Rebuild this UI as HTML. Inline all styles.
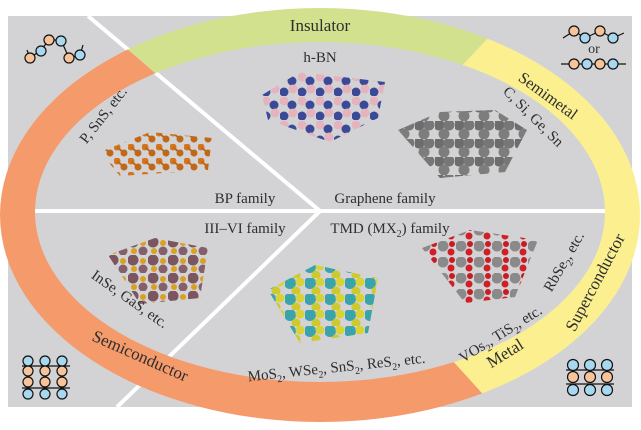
<!DOCTYPE html>
<html><head><meta charset="utf-8"><style>
html,body{margin:0;padding:0;background:#fff;width:641px;height:430px;overflow:hidden}
svg{display:block}
text{font-family:"Liberation Serif",serif;fill:#2e2e2e}
</style></head><body>
<svg width="641" height="430" viewBox="0 0 641 430" xmlns="http://www.w3.org/2000/svg">
<defs>
<clipPath id="ring"><path clip-rule="evenodd" d="M0,215a320,207 0 1,0 640,0a320,207 0 1,0 -640,0Z M35,212a285,170 0 1,0 570,0a285,170 0 1,0 -570,0Z"/></clipPath>
<pattern id="hbn" width="18" height="24" patternUnits="userSpaceOnUse" x="262" y="72">
<circle cx="4" cy="5" r="4.5" fill="#e5b3bd"/><circle cx="12" cy="9" r="4.5" fill="#3b4a98"/>
<circle cx="4" cy="20" r="4.5" fill="#3b4a98"/><circle cx="13" cy="17" r="4.5" fill="#e5b3bd"/></pattern>
<pattern id="gr" width="20" height="18" patternUnits="userSpaceOnUse" x="395" y="85">
<circle cx="4" cy="4" r="5.5" fill="#6d6d6d"/><circle cx="14" cy="4" r="5.5" fill="#777"/><circle cx="9" cy="13" r="5.5" fill="#7d7d7d"/></pattern>
<pattern id="bp" width="14" height="14" patternUnits="userSpaceOnUse" x="100" y="130">
<circle cx="3" cy="3" r="3.5" fill="#d5761f"/><circle cx="10" cy="9" r="3.5" fill="#c0681a"/><path d="M3,3L10,9" stroke="#c0681a" stroke-width="2"/></pattern>
<pattern id="iii" width="20" height="18" patternUnits="userSpaceOnUse" x="108" y="237">
<circle cx="5" cy="5" r="5.5" fill="#7b5560"/><circle cx="15" cy="6" r="3" fill="#d9a021"/><circle cx="6" cy="14" r="3" fill="#d9a021"/><circle cx="15" cy="14" r="4.5" fill="#85606a"/></pattern>
<pattern id="mos" width="20" height="16" patternUnits="userSpaceOnUse" x="265" y="262">
<circle cx="5" cy="5" r="6" fill="#3aa3ab"/><circle cx="15" cy="4" r="4.5" fill="#d9d236"/><circle cx="11" cy="13" r="4.5" fill="#cfc82e"/></pattern>
<pattern id="vos" width="18" height="16" patternUnits="userSpaceOnUse" x="420" y="225">
<circle cx="5" cy="5" r="5.5" fill="#8a8a8a"/><circle cx="13" cy="11" r="3.5" fill="#d01f26"/><circle cx="14" cy="3" r="3" fill="#c81c22"/></pattern>
</defs>
<rect x="8" y="16" width="624" height="391" fill="#d3d3d5"/>
<g stroke="#fff" stroke-width="4">
<line x1="8" y1="211" x2="632" y2="211"/>
<line x1="88" y1="16" x2="320" y2="211"/>
<line x1="320" y1="211" x2="117" y2="407"/>
</g>
<g clip-path="url(#ring)">
<polygon points="320,215 -220,-250 776,-265" fill="#d2e18d"/>
<polygon points="320,215 776,-265 1000,-265 1000,800 770,710" fill="#fbef90"/>
<polygon points="320,215 770,710 -400,800 -400,-250 -220,-250" fill="#f59a6b"/>
</g>
<polygon points="262,95 300,72 385,82 378,118 330,142 268,120" fill="url(#hbn)"/>
<polygon points="398,130 440,112 495,110 527,130 505,172 440,178" fill="url(#gr)"/>
<polygon points="100,152 150,132 212,138 208,170 120,176" fill="url(#bp)"/>
<polygon points="108,255 155,238 208,248 200,298 140,304" fill="url(#iii)"/>
<polygon points="268,290 315,265 378,278 368,333 300,343" fill="url(#mos)"/>
<polygon points="422,248 470,230 538,240 515,297 465,303" fill="url(#vos)"/>
<g stroke="#111" stroke-width="1.2">
<polyline fill="none" points="27,50 30,58 41,50 49,40 61,40 69,58 80,55 83,45"/>
<circle cx="30" cy="58" r="5" fill="#f7c39a"/><circle cx="41" cy="51" r="5" fill="#a8d8ef"/>
<circle cx="49" cy="40" r="5" fill="#f7c39a"/><circle cx="61" cy="41" r="5" fill="#a8d8ef"/>
<circle cx="69" cy="58" r="5" fill="#f7c39a"/><circle cx="80" cy="55" r="5" fill="#a8d8ef"/>
<polyline fill="none" points="563,38 574,31 585,38 600,31 613,38 624,33"/>
<circle cx="574" cy="31" r="5" fill="#f7c39a"/><circle cx="585" cy="38" r="5" fill="#a8d8ef"/>
<circle cx="600" cy="31" r="5" fill="#f7c39a"/><circle cx="613" cy="38" r="5" fill="#a8d8ef"/>
<line x1="561" y1="64" x2="626" y2="64"/>
<circle cx="574" cy="64" r="5" fill="#f7c39a"/><circle cx="587" cy="64" r="5" fill="#a8d8ef"/>
<circle cx="600" cy="64" r="5" fill="#f7c39a"/><circle cx="613" cy="64" r="5" fill="#a8d8ef"/>
<g fill="none"><path d="M22,366h48M22,388h48M28,361v33M45,361v33M62,361v33"/></g>
<circle cx="28" cy="361" r="5" fill="#a8d8ef"/><circle cx="45" cy="361" r="5" fill="#a8d8ef"/><circle cx="62" cy="361" r="5" fill="#a8d8ef"/>
<circle cx="28" cy="371" r="5" fill="#f7c39a"/><circle cx="45" cy="371" r="5" fill="#f7c39a"/><circle cx="62" cy="371" r="5" fill="#f7c39a"/>
<circle cx="28" cy="382" r="5" fill="#f7c39a"/><circle cx="45" cy="382" r="5" fill="#f7c39a"/><circle cx="62" cy="382" r="5" fill="#f7c39a"/>
<circle cx="28" cy="394" r="5" fill="#a8d8ef"/><circle cx="45" cy="394" r="5" fill="#a8d8ef"/><circle cx="62" cy="394" r="5" fill="#a8d8ef"/>
<g fill="none"><path d="M566,370h48M566,384h48"/></g>
<circle cx="573" cy="365" r="5.5" fill="#a8d8ef"/><circle cx="590" cy="365" r="5.5" fill="#a8d8ef"/><circle cx="607" cy="365" r="5.5" fill="#a8d8ef"/>
<circle cx="573" cy="377" r="5.5" fill="#f7c39a"/><circle cx="590" cy="377" r="5.5" fill="#f7c39a"/><circle cx="607" cy="377" r="5.5" fill="#f7c39a"/>
<circle cx="573" cy="390" r="5.5" fill="#a8d8ef"/><circle cx="590" cy="390" r="5.5" fill="#a8d8ef"/><circle cx="607" cy="390" r="5.5" fill="#a8d8ef"/>
</g>
<text x="594" y="53" font-size="14" text-anchor="middle">or</text>
<text x="320" y="31" font-size="17" text-anchor="middle">Insulator</text>
<text x="320" y="62" font-size="15" text-anchor="middle">h-BN</text>
<text x="245" y="203" font-size="15" text-anchor="middle">BP family</text>
<text x="385" y="203" font-size="15" text-anchor="middle">Graphene family</text>
<text x="245" y="233" font-size="15" text-anchor="middle">III–VI family</text>
<text x="390" y="233" font-size="15" text-anchor="middle">TMD (MX<tspan font-size="10" dy="4">2</tspan><tspan dy="-4">) family</tspan></text>
<text font-size="16" text-anchor="middle" transform="translate(545,100) rotate(36)">Semimetal</text>
<text font-size="15" text-anchor="middle" transform="translate(530,120) rotate(45)">C, Si, Ge, Sn</text>
<text font-size="15" text-anchor="middle" transform="translate(107,118) rotate(-52)">P, SnS, etc.</text>
<text font-size="15" text-anchor="middle" transform="translate(127,303) rotate(35)">InSe, GaS, etc.</text>
<text font-size="17" text-anchor="middle" transform="translate(138,361) rotate(24)">Semiconductor</text>
<text font-size="15" text-anchor="middle" transform="translate(337,372) rotate(-6)">MoS<tspan font-size="10" dy="4">2</tspan><tspan dy="-4">, WSe</tspan><tspan font-size="10" dy="4">2</tspan><tspan dy="-4">, SnS</tspan><tspan font-size="10" dy="4">2</tspan><tspan dy="-4">, ReS</tspan><tspan font-size="10" dy="4">2</tspan><tspan dy="-4">, etc.</tspan></text>
<text font-size="15" text-anchor="middle" transform="translate(503,338) rotate(-32)">VOs<tspan font-size="10" dy="4">2</tspan><tspan dy="-4">, TiS</tspan><tspan font-size="10" dy="4">2</tspan><tspan dy="-4">, etc.</tspan></text>
<text font-size="15" text-anchor="middle" transform="translate(568,264) rotate(-60)">RbSe<tspan font-size="10" dy="4">2</tspan><tspan dy="-4">, etc.</tspan></text>
<text font-size="17" text-anchor="middle" transform="translate(600,285) rotate(-62)">Superconductor</text>
<text font-size="17" text-anchor="middle" transform="translate(508,358) rotate(-32)">Metal</text>
</svg>
</body></html>
